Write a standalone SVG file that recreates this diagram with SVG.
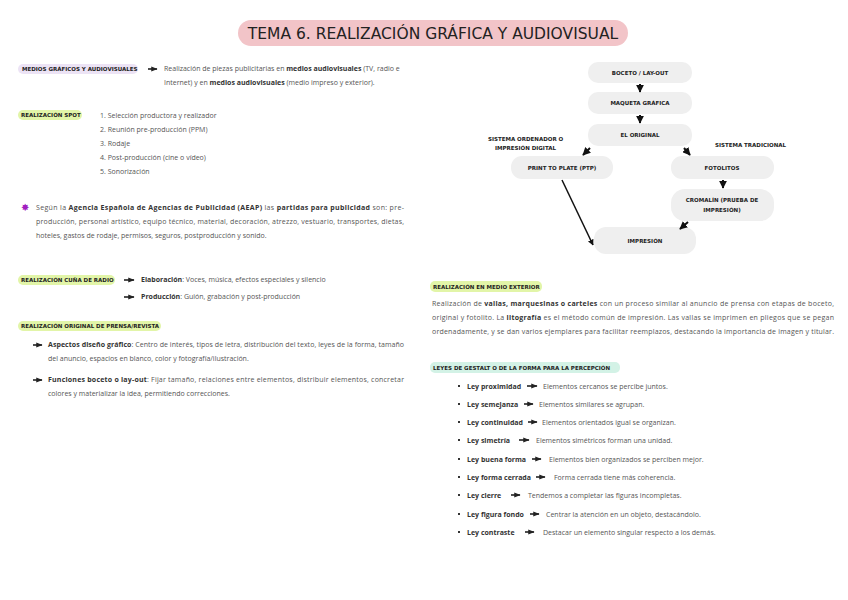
<svg xmlns="http://www.w3.org/2000/svg" width="848" height="600" viewBox="0 0 848 600">
<defs>
<marker id="ah" viewBox="0 0 10 10" refX="9" refY="5" markerWidth="4" markerHeight="4" orient="auto"><path d="M0,0L10,5L0,10z" fill="#111"/></marker>
<marker id="sa" viewBox="0 0 10 10" refX="9" refY="5" markerWidth="4" markerHeight="4" orient="auto"><path d="M0,1L10,5L0,9z" fill="#222"/></marker>
</defs>
<style>
.b{font-family:"Open Sans","Liberation Sans",sans-serif;font-size:7px;fill:#555}
.bb{font-weight:bold;fill:#333}
.h{font-family:"DejaVu Sans",sans-serif;font-size:5.5px;font-weight:bold;fill:#222}
.n{font-family:"DejaVu Sans",sans-serif;font-size:5.5px;font-weight:bold;fill:#222;text-anchor:middle}
.box{fill:#efefef}
.ar{stroke:#222;stroke-width:1.6;marker-end:url(#sa)}
.fa{stroke:#111;stroke-width:2;marker-end:url(#ah)}
</style>
<rect width="848" height="600" fill="#fff"/>
<g id="title"><rect x="238" y="20" width="390" height="26" rx="13" fill="#f2c4c8"/>
<text x="433" y="39" text-anchor="middle" font-family="DejaVu Sans,sans-serif" font-size="15.5" fill="#222">TEMA 6. REALIZACIÓN GRÁFICA Y AUDIOVISUAL</text></g>

<g id="medios"><rect x="18" y="64" width="120" height="10" rx="5" fill="#ece3f5"/>
<text class="h" x="22" y="71">MEDIOS GRÁFICOS Y AUDIOVISUALES</text>
<line class="ar" x1="148" y1="69" x2="157" y2="69"/>
<text class="b" x="164" y="71">Realización de piezas publicitarias en <tspan class="bb">medios audiovisuales</tspan> (TV, radio e</text>
<text class="b" x="164" y="85">Internet) y en <tspan class="bb">medios audiovisuales</tspan> (medio impreso y exterior).</text></g>

<g id="spot"><rect x="18" y="110" width="64" height="10" rx="5" fill="#e2f5a8"/>
<text class="h" x="21" y="117">REALIZACIÓN SPOT</text>
<text class="b" x="100" y="118">1.   Selección productora y realizador</text>
<text class="b" x="100" y="132">2.   Reunión pre-producción (PPM)</text>
<text class="b" x="100" y="146">3.   Rodaje</text>
<text class="b" x="100" y="160">4.   Post-producción (cine o vídeo)</text>
<text class="b" x="100" y="174">5.   Sonorización</text></g>

<g id="aeap"><text x="21" y="211" font-size="10" fill="#a020c0" font-family="DejaVu Sans,sans-serif">✸</text>
<text class="b" x="36" y="210" textLength="368" lengthAdjust="spacing">Según la <tspan class="bb">Agencia Española de Agencias de Publicidad (AEAP)</tspan> las <tspan class="bb">partidas para publicidad</tspan> son: pre-</text>
<text class="b" x="36" y="224" textLength="368" lengthAdjust="spacing">producción, personal artístico, equipo técnico, material, decoración, atrezzo, vestuario, transportes, dietas,</text>
<text class="b" x="36" y="238">hoteles, gastos de rodaje, permisos, seguros, postproducción y sonido.</text></g>

<g id="radio"><rect x="18" y="275" width="97" height="10" rx="5" fill="#e2f5a8"/>
<text class="h" x="21" y="282">REALIZACIÓN CUÑA DE RADIO</text>
<line class="ar" x1="124" y1="280" x2="134" y2="280"/>
<text class="b" x="141" y="282"><tspan class="bb">Elaboración</tspan>: Voces, música, efectos especiales y silencio</text>
<line class="ar" x1="124" y1="297" x2="134" y2="297"/>
<text class="b" x="141" y="299"><tspan class="bb">Producción</tspan>: Guión, grabación y post-producción</text></g>

<g id="prensa"><rect x="18" y="321" width="143" height="10" rx="5" fill="#e2f5a8"/>
<text class="h" x="21" y="328">REALIZACIÓN ORIGINAL DE PRENSA/REVISTA</text>
<line class="ar" x1="33" y1="345" x2="42" y2="345"/>
<text class="b" x="48" y="347" textLength="356" lengthAdjust="spacing"><tspan class="bb">Aspectos diseño gráfico</tspan>: Centro de interés, tipos de letra, distribución del texto, leyes de la forma, tamaño</text>
<text class="b" x="48" y="361">del anuncio, espacios en blanco, color y fotografía/ilustración.</text>
<line class="ar" x1="33" y1="380" x2="42" y2="380"/>
<text class="b" x="48" y="382" textLength="356" lengthAdjust="spacing"><tspan class="bb">Funciones boceto o lay-out</tspan>: Fijar tamaño, relaciones entre elementos, distribuir elementos, concretar</text>
<text class="b" x="48" y="396">colores y materializar la idea, permitiendo correcciones.</text></g>

<g id="n-boceto"><rect class="box" x="588" y="62" width="104" height="21" rx="10"/><text class="n" x="640" y="74.5">BOCETO / LAY-OUT</text></g>
<g id="n-maqueta"><rect class="box" x="588" y="92" width="104" height="22" rx="10"/><text class="n" x="640" y="105">MAQUETA GRÁFICA</text></g>
<g id="n-original"><rect class="box" x="588" y="124" width="104" height="22" rx="10"/><text class="n" x="640" y="137">EL ORIGINAL</text></g>
<g id="n-ptp"><rect class="box" x="511" y="156" width="102" height="23" rx="11"/><text class="n" x="562" y="169.5">PRINT TO PLATE (PTP)</text></g>
<g id="n-fotolitos"><rect class="box" x="671" y="156" width="103" height="23" rx="11"/><text class="n" x="722" y="169.5">FOTOLITOS</text></g>
<g id="n-cromalin"><rect class="box" x="671" y="189" width="103" height="32" rx="14"/><text class="n" x="722" y="202">CROMALÍN (PRUEBA DE</text><text class="n" x="722" y="212">IMPRESIÓN)</text></g>
<g id="n-impresion"><rect class="box" x="594" y="227" width="102" height="27" rx="12"/><text class="n" x="645" y="243">IMPRESIÓN</text></g>
<g id="labels"><text class="h" x="488" y="141">SISTEMA ORDENADOR O</text><text class="h" x="495" y="150">IMPRESIÓN DIGITAL</text><text class="h" x="715" y="147">SISTEMA TRADICIONAL</text></g>
<g id="connectors">
<line class="fa" x1="640" y1="84" x2="640" y2="92"/>
<line class="fa" x1="640" y1="115" x2="640" y2="123"/>
<line class="fa" x1="590" y1="148" x2="583" y2="155"/>
<line class="fa" x1="684" y1="148" x2="690" y2="155"/>
<line class="fa" x1="723" y1="180" x2="723" y2="188"/>
<line class="fa" x1="688" y1="222" x2="680" y2="229"/>
<line stroke="#111" stroke-width="1.5" x1="562" y1="180" x2="593" y2="245" marker-end="url(#ah)"/>
</g>

<g id="exterior"><rect x="430" y="281" width="112" height="11" rx="5" fill="#e2f5a8"/>
<text class="h" x="433" y="288.5">REALIZACIÓN EN MEDIO EXTERIOR</text>
<text class="b" x="432" y="306" textLength="402" lengthAdjust="spacing">Realización de <tspan class="bb">vallas, marquesinas o carteles</tspan> con un proceso similar al anuncio de prensa con etapas de boceto,</text>
<text class="b" x="432" y="320" textLength="402" lengthAdjust="spacing">original y fotolito. La <tspan class="bb">litografía</tspan> es el método común de impresión. Las vallas se imprimen en pliegos que se pegan</text>
<text class="b" x="432" y="334" textLength="402" lengthAdjust="spacing">ordenadamente, y se dan varios ejemplares para facilitar reemplazos, destacando la importancia de imagen y titular.</text></g>

<g id="gestalt"><rect x="430" y="362" width="190" height="11" rx="5" fill="#d3f2e6"/>
<text class="h" x="433" y="369.5">LEYES DE GESTALT O DE LA FORMA PARA LA PERCEPCIÓN</text>
<g fill="#333"><rect x="458" y="385" width="2" height="2"/><rect x="458" y="403" width="2" height="2"/><rect x="458" y="421" width="2" height="2"/><rect x="458" y="439" width="2" height="2"/><rect x="458" y="458" width="2" height="2"/><rect x="458" y="476" width="2" height="2"/><rect x="458" y="494" width="2" height="2"/><rect x="458" y="513" width="2" height="2"/><rect x="458" y="531" width="2" height="2"/></g>
<text class="b bb" x="467" y="389">Ley proximidad</text><line class="ar" x1="527" y1="386" x2="537" y2="386"/><text class="b" x="543" y="389">Elementos cercanos se percibe juntos.</text>
<text class="b bb" x="467" y="407">Ley semejanza</text><line class="ar" x1="524" y1="404" x2="533" y2="404"/><text class="b" x="539" y="407">Elementos similares se agrupan.</text>
<text class="b bb" x="467" y="425">Ley continuidad</text><line class="ar" x1="528" y1="422" x2="537" y2="422"/><text class="b" x="542" y="425">Elementos orientados igual se organizan.</text>
<text class="b bb" x="467" y="443">Ley simetría</text><line class="ar" x1="519" y1="440" x2="529" y2="440"/><text class="b" x="536" y="443">Elementos simétricos forman una unidad.</text>
<text class="b bb" x="467" y="462">Ley buena forma</text><line class="ar" x1="532" y1="459" x2="541" y2="459"/><text class="b" x="549" y="462">Elementos bien organizados se perciben mejor.</text>
<text class="b bb" x="467" y="480">Ley forma cerrada</text><line class="ar" x1="536" y1="477" x2="545" y2="477"/><text class="b" x="554" y="480">Forma cerrada tiene más coherencia.</text>
<text class="b bb" x="467" y="498">Ley cierre</text><line class="ar" x1="511" y1="495" x2="520" y2="495"/><text class="b" x="528" y="498">Tendemos a completar las figuras incompletas.</text>
<text class="b bb" x="467" y="517">Ley figura fondo</text><line class="ar" x1="530" y1="514" x2="539" y2="514"/><text class="b" x="546" y="517">Centrar la atención en un objeto, destacándolo.</text>
<text class="b bb" x="467" y="535">Ley contraste</text><line class="ar" x1="525" y1="532" x2="534" y2="532"/><text class="b" x="543" y="535">Destacar un elemento singular respecto a los demás.</text></g>
</svg>
